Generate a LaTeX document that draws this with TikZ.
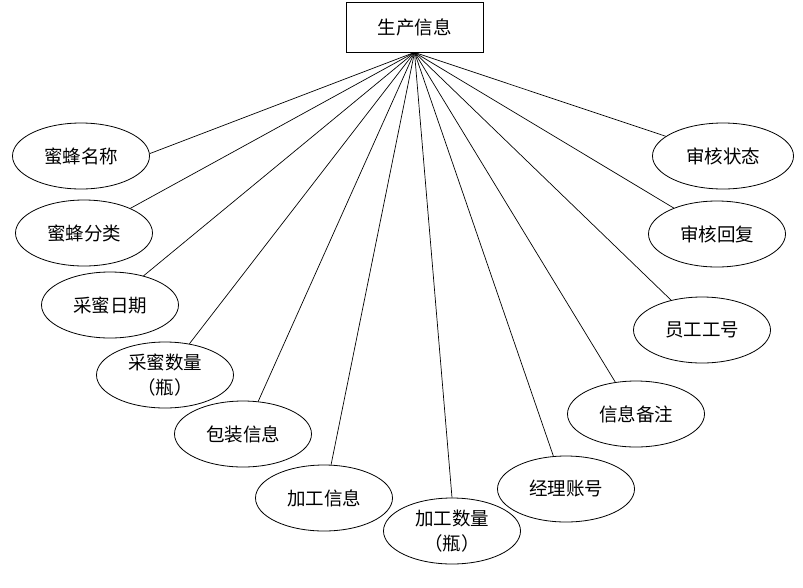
\documentclass[tikz,border=0pt]{standalone}
\usepackage{fontspec}
\newfontfamily\cjk{Noto Sans CJK SC}
\usetikzlibrary{shapes.geometric}
\begin{document}
\begin{tikzpicture}[x=1pt,y=-1pt,
  every node/.style={font=\cjk\fontsize{18.5}{25}\selectfont},
  attr/.style={draw,ellipse,line width=0.8pt,minimum width=137pt,minimum height=66pt,inner sep=0pt,align=center},
  ent/.style={draw,rectangle,line width=0.8pt,minimum width=137pt,minimum height=50pt,inner sep=0pt},
  link/.style={line width=0.7pt}]
\useasboundingbox (0,0) rectangle (803,587);
\node[ent] (top) at (414.5,27) {生产信息};
\node[attr] (a1) at (81,156) {蜜蜂名称};
\node[attr] (a2) at (84,233) {蜜蜂分类};
\node[attr] (a3) at (110,305) {采蜜日期};
\node[attr] (a4) at (165,375) {采蜜数量\\（瓶）};
\node[attr] (a5) at (243,434) {包装信息};
\node[attr] (a6) at (324,498) {加工信息};
\node[attr] (a7) at (452,531) {加工数量\\（瓶）};
\node[attr] (a8) at (566,489) {经理账号};
\node[attr] (a9) at (636,414) {信息备注};
\node[attr] (a10) at (702,330) {员工工号};
\node[attr] (a11) at (717,234) {审核回复};
\node[attr,minimum width=141pt] (a12) at (723,156) {审核状态};
\coordinate (hub) at (top.south);
\draw[link] (hub) -- (a1.2);
\draw[link] (hub) -- (a2.28);
\draw[link] (hub) -- (a3.41);
\draw[link] (hub) -- (a4.52);
\draw[link] (hub) -- (a5.65);
\draw[link] (hub) -- (a6.78);
\draw[link] (hub) -- (a7.90);
\draw[link] (hub) -- (a8.111);
\draw[link] (hub) -- (a9.123);
\draw[link] (hub) -- (a10.136);
\draw[link] (hub) -- (a11.149);
\draw[link] (hub) -- (a12.161);
\end{tikzpicture}
\end{document}
